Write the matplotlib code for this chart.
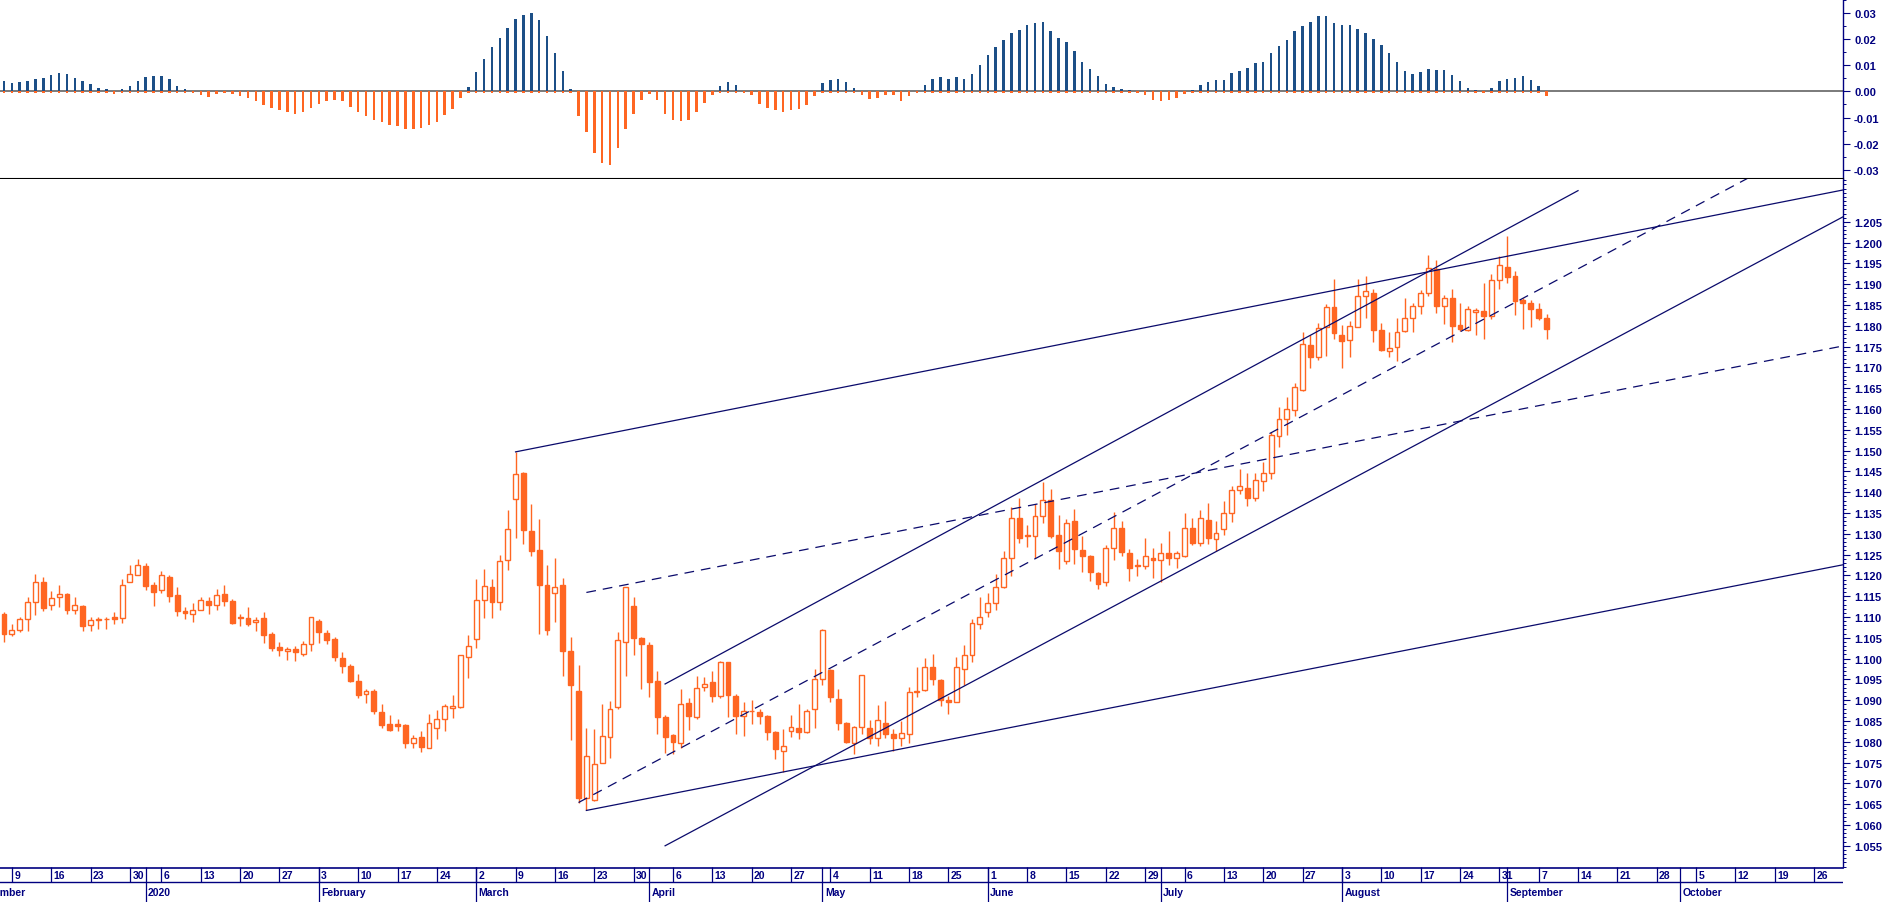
import numpy as np
import pandas as pd
import matplotlib
matplotlib.use('Agg')
import matplotlib.pyplot as plt
from matplotlib.ticker import MultipleLocator, FixedLocator, FuncFormatter

plt.rcParams['font.family'] = ['Liberation Sans', 'DejaVu Sans']
plt.rcParams['font.weight'] = 'bold'
plt.rcParams['lines.scale_dashes'] = False

ORANGE = '#ff6622'
BLUE = '#1c4f87'
NAVY = '#000080'
LINE = '#0a0a6b'
NARROW = ['Liberation Sans Narrow', 'Liberation Sans', 'DejaVu Sans']

# daily candles, 6 Dec 2019 .. 8 Sep 2020
opens = [1.1107, 1.1060, 1.1069, 1.1096, 1.1137, 1.1184, 1.1128, 1.1147, 1.1156, 1.1118,
         1.1126, 1.1080, 1.1094, 1.1095, 1.1100, 1.1098, 1.1185, 1.1201, 1.1222, 1.1176,
         1.1165, 1.1196, 1.1152, 1.1114, 1.1108, 1.1118, 1.1138, 1.1128, 1.1155, 1.1138,
         1.1099, 1.1097, 1.1087, 1.1097, 1.1059, 1.1027, 1.1019, 1.1023, 1.1012, 1.1036,
         1.1090, 1.1061, 1.1047, 1.1001, 1.0982, 1.0946, 1.0914, 1.0922, 1.0871, 1.0842,
         1.0842, 1.0840, 1.0798, 1.0811, 1.0786, 1.0832, 1.0854, 1.0882, 1.0884, 1.1005,
         1.1048, 1.1142, 1.1172, 1.1137, 1.1236, 1.1383, 1.1446, 1.1306, 1.1261, 1.1177,
         1.1157, 1.1177, 1.1018, 1.0922, 1.0664, 1.0661, 1.0748, 1.0811, 1.0883, 1.1041,
         1.1126, 1.1049, 1.1033, 1.0945, 1.0859, 1.0816, 1.0796, 1.0893, 1.0859, 1.0931,
         1.0943, 1.0909, 1.0991, 1.0909, 1.0861, 1.0875, 1.0872, 1.0863, 1.0824, 1.0779,
         1.0825, 1.0832, 1.0824, 1.0879, 1.0952, 1.0972, 1.0903, 1.0845, 1.0797, 1.0835,
         1.0833, 1.0810, 1.0846, 1.0818, 1.0810, 1.0818, 1.0920, 1.0925, 1.0979, 1.0948,
         1.0900, 1.0896, 1.0976, 1.1009, 1.1082, 1.1113, 1.1133, 1.1171, 1.1241, 1.1338,
         1.1298, 1.1295, 1.1342, 1.1381, 1.1297, 1.1235, 1.1331, 1.1261, 1.1246, 1.1205,
         1.1185, 1.1265, 1.1313, 1.1253, 1.1225, 1.1222, 1.1241, 1.1237, 1.1253, 1.1243,
         1.1246, 1.1313, 1.1279, 1.1333, 1.1287, 1.1311, 1.1350, 1.1405, 1.1409, 1.1385,
         1.1426, 1.1446, 1.1536, 1.1577, 1.1597, 1.1646, 1.1754, 1.1726, 1.1796, 1.1846,
         1.1778, 1.1767, 1.1798, 1.1871, 1.1880, 1.1790, 1.1740, 1.1748, 1.1788, 1.1818,
         1.1848, 1.1878, 1.1936, 1.1847, 1.1866, 1.1802, 1.1790, 1.1834, 1.1836, 1.1824,
         1.1910, 1.1942, 1.1920, 1.1863, 1.1855, 1.1840, 1.1820]
highs = [1.1113, 1.1082, 1.1099, 1.1147, 1.1203, 1.1197, 1.1162, 1.1176, 1.1158, 1.1147,
         1.1128, 1.1099, 1.1099, 1.1099, 1.1113, 1.1192, 1.1224, 1.1240, 1.1229, 1.1183,
         1.1210, 1.1202, 1.1171, 1.1123, 1.1133, 1.1149, 1.1147, 1.1167, 1.1176, 1.1144,
         1.1107, 1.1124, 1.1101, 1.1112, 1.1065, 1.1039, 1.1027, 1.1031, 1.1042, 1.1101,
         1.1095, 1.1068, 1.1052, 1.1017, 1.0988, 1.0962, 1.0926, 1.0928, 1.0892, 1.0865,
         1.0854, 1.0842, 1.0816, 1.0826, 1.0867, 1.0876, 1.0892, 1.0912, 1.1009, 1.1056,
         1.1191, 1.1215, 1.1191, 1.1250, 1.1357, 1.1497, 1.1449, 1.1371, 1.1335, 1.1225,
         1.1242, 1.1194, 1.1052, 1.0984, 1.0833, 1.0830, 1.0891, 1.0897, 1.1065, 1.1172,
         1.1148, 1.1052, 1.1041, 1.0969, 1.0864, 1.0818, 1.0927, 1.0905, 1.0959, 1.0956,
         1.0970, 1.0995, 1.0993, 1.0915, 1.0896, 1.0901, 1.0880, 1.0865, 1.0826, 1.0831,
         1.0864, 1.0891, 1.0878, 1.0976, 1.1071, 1.0974, 1.0927, 1.0847, 1.0839, 1.0961,
         1.0852, 1.0889, 1.0897, 1.0830, 1.0850, 1.0931, 1.0979, 1.1001, 1.1011, 1.0950,
         1.0911, 1.1003, 1.1032, 1.1096, 1.1149, 1.1157, 1.1203, 1.1258, 1.1365, 1.1387,
         1.1321, 1.1371, 1.1425, 1.1407, 1.1345, 1.1335, 1.1359, 1.1295, 1.1248, 1.1209,
         1.1273, 1.1353, 1.1331, 1.1263, 1.1239, 1.1291, 1.1267, 1.1278, 1.1306, 1.1259,
         1.1350, 1.1337, 1.1357, 1.1374, 1.1331, 1.1379, 1.1415, 1.1457, 1.1447, 1.1447,
         1.1473, 1.1544, 1.1604, 1.1628, 1.1662, 1.1786, 1.1778, 1.1808, 1.1852, 1.1912,
         1.1802, 1.1812, 1.1912, 1.1919, 1.1888, 1.1806, 1.1786, 1.1818, 1.1868, 1.1855,
         1.1886, 1.1970, 1.1959, 1.1874, 1.1888, 1.1855, 1.1847, 1.1844, 1.1904, 1.1924,
         1.1968, 1.2016, 1.1931, 1.1868, 1.1862, 1.1854, 1.1828]
lows = [1.1039, 1.1055, 1.1064, 1.1067, 1.1104, 1.1115, 1.1117, 1.1125, 1.1108, 1.1107,
        1.1067, 1.1067, 1.1071, 1.1071, 1.1083, 1.1085, 1.1184, 1.1200, 1.1165, 1.1126,
        1.1157, 1.1136, 1.1103, 1.1095, 1.1088, 1.1117, 1.1107, 1.1117, 1.1127, 1.1084,
        1.1079, 1.1079, 1.1067, 1.1038, 1.1019, 1.1007, 1.0997, 1.0995, 1.1007, 1.1019,
        1.1037, 1.1036, 1.0995, 1.0966, 1.0943, 1.0905, 1.0894, 1.0867, 1.0833, 1.0826,
        1.0826, 1.0786, 1.0786, 1.0776, 1.0786, 1.0807, 1.0826, 1.0858, 1.0881, 1.0954,
        1.1026, 1.1098, 1.1098, 1.1117, 1.1214, 1.1289, 1.1276, 1.1247, 1.1058, 1.1057,
        1.1089, 1.0959, 1.0805, 1.0654, 1.0635, 1.0658, 1.0748, 1.0762, 1.0879, 1.0957,
        1.1009, 1.0928, 1.0907, 1.0819, 1.0774, 1.0770, 1.0785, 1.0829, 1.0855, 1.0923,
        1.0896, 1.0905, 1.0859, 1.0819, 1.0815, 1.0843, 1.0843, 1.0805, 1.0758, 1.0728,
        1.0811, 1.0807, 1.0822, 1.0832, 1.0936, 1.0895, 1.0829, 1.0797, 1.0770, 1.0819,
        1.0795, 1.0790, 1.0810, 1.0778, 1.0789, 1.0797, 1.0907, 1.0923, 1.0936, 1.0887,
        1.0867, 1.0895, 1.0936, 1.0992, 1.1071, 1.1099, 1.1117, 1.1170, 1.1199, 1.1279,
        1.1269, 1.1243, 1.1327, 1.1289, 1.1215, 1.1227, 1.1227, 1.1209, 1.1187, 1.1167,
        1.1175, 1.1238, 1.1247, 1.1187, 1.1199, 1.1215, 1.1193, 1.1185, 1.1225, 1.1219,
        1.1244, 1.1273, 1.1271, 1.1275, 1.1259, 1.1297, 1.1329, 1.1395, 1.1368, 1.1379,
        1.1403, 1.1431, 1.1509, 1.1537, 1.1584, 1.1644, 1.1699, 1.1718, 1.1728, 1.1768,
        1.1699, 1.1726, 1.1796, 1.1820, 1.1760, 1.1740, 1.1726, 1.1716, 1.1786, 1.1786,
        1.1828, 1.1872, 1.1832, 1.1804, 1.1760, 1.1788, 1.1788, 1.1778, 1.1768, 1.1816,
        1.1888, 1.1904, 1.1827, 1.1792, 1.1796, 1.1814, 1.1768]
closes = [1.1060, 1.1068, 1.1095, 1.1137, 1.1185, 1.1122, 1.1146, 1.1156, 1.1117, 1.1128,
          1.1079, 1.1094, 1.1095, 1.1096, 1.1096, 1.1178, 1.1204, 1.1224, 1.1175, 1.1160,
          1.1200, 1.1151, 1.1115, 1.1110, 1.1116, 1.1140, 1.1129, 1.1154, 1.1139, 1.1086,
          1.1098, 1.1083, 1.1094, 1.1057, 1.1026, 1.1021, 1.1023, 1.1017, 1.1036, 1.1099,
          1.1064, 1.1045, 1.1004, 1.0983, 1.0946, 1.0913, 1.0923, 1.0875, 1.0841, 1.0829,
          1.0838, 1.0798, 1.0810, 1.0788, 1.0845, 1.0854, 1.0885, 1.0887, 1.1008, 1.1030,
          1.1140, 1.1174, 1.1137, 1.1234, 1.1311, 1.1443, 1.1310, 1.1259, 1.1177, 1.1069,
          1.1171, 1.1019, 1.0937, 1.0665, 1.0765, 1.0746, 1.0813, 1.0880, 1.1044, 1.1171,
          1.1050, 1.1036, 1.0944, 1.0859, 1.0812, 1.0799, 1.0892, 1.0861, 1.0930, 1.0938,
          1.0911, 1.0991, 1.0913, 1.0863, 1.0873, 1.0874, 1.0861, 1.0824, 1.0783, 1.0791,
          1.0835, 1.0823, 1.0875, 1.0952, 1.1069, 1.0907, 1.0845, 1.0799, 1.0835, 1.0960,
          1.0810, 1.0852, 1.0818, 1.0808, 1.0820, 1.0919, 1.0923, 1.0979, 1.0952, 1.0901,
          1.0896, 1.0979, 1.1009, 1.1085, 1.1101, 1.1133, 1.1172, 1.1241, 1.1339, 1.1289,
          1.1295, 1.1342, 1.1381, 1.1295, 1.1259, 1.1327, 1.1264, 1.1247, 1.1207, 1.1180,
          1.1265, 1.1315, 1.1257, 1.1219, 1.1222, 1.1246, 1.1237, 1.1255, 1.1243, 1.1253,
          1.1315, 1.1277, 1.1337, 1.1289, 1.1303, 1.1349, 1.1405, 1.1414, 1.1385, 1.1430,
          1.1447, 1.1537, 1.1577, 1.1600, 1.1653, 1.1756, 1.1726, 1.1794, 1.1846, 1.1782,
          1.1764, 1.1800, 1.1871, 1.1883, 1.1790, 1.1742, 1.1746, 1.1786, 1.1818, 1.1848,
          1.1878, 1.1938, 1.1848, 1.1866, 1.1800, 1.1792, 1.1840, 1.1838, 1.1824, 1.1910,
          1.1946, 1.1918, 1.1860, 1.1855, 1.1840, 1.1819, 1.1792]

# oscillator in the upper panel, one value per candle
osc = [0.0040, 0.0033, 0.0035, 0.0040, 0.0046, 0.0052, 0.0064, 0.0072, 0.0067, 0.0052,
       0.0042, 0.0027, 0.0014, 0.0008, -0.0009, 0.0010, 0.0020, 0.0040, 0.0054, 0.0060,
       0.0060, 0.0049, 0.0022, 0.0010, -0.0005, -0.0014, -0.0020, -0.0010, -0.0003, -0.0010,
       -0.0018, -0.0026, -0.0037, -0.0051, -0.0063, -0.0073, -0.0078, -0.0086, -0.0079, -0.0063,
       -0.0047, -0.0037, -0.0032, -0.0037, -0.0059, -0.0079, -0.0093, -0.0108, -0.0118, -0.0129,
       -0.0134, -0.0143, -0.0143, -0.0140, -0.0129, -0.0118, -0.0091, -0.0069, -0.0026, 0.0018,
       0.0074, 0.0125, 0.0170, 0.0206, 0.0244, 0.0280, 0.0292, 0.0302, 0.0276, 0.0214,
       0.0146, 0.0077, 0.0008, -0.0095, -0.0155, -0.0236, -0.0274, -0.0284, -0.0216, -0.0143,
       -0.0086, -0.0031, -0.0009, -0.0033, -0.0086, -0.0111, -0.0114, -0.0108, -0.0079, -0.0044,
       -0.0012, 0.0022, 0.0037, 0.0026, 0.0003, -0.0013, -0.0047, -0.0063, -0.0073, -0.0078,
       -0.0070, -0.0067, -0.0051, -0.0018, 0.0033, 0.0044, 0.0046, 0.0036, 0.0013, -0.0015,
       -0.0028, -0.0024, -0.0012, -0.0012, -0.0035, -0.0018, -0.0005, 0.0023, 0.0046, 0.0055,
       0.0049, 0.0054, 0.0049, 0.0067, 0.0101, 0.0141, 0.0170, 0.0196, 0.0224, 0.0237,
       0.0256, 0.0264, 0.0265, 0.0234, 0.0206, 0.0191, 0.0155, 0.0114, 0.0087, 0.0059,
       0.0029, 0.0019, 0.0010, 0.0004, 0.0001, -0.0014, -0.0033, -0.0035, -0.0032, -0.0024,
       -0.0010, 0.0006, 0.0023, 0.0035, 0.0045, 0.0045, 0.0072, 0.0079, 0.0092, 0.0110,
       0.0113, 0.0147, 0.0173, 0.0198, 0.0232, 0.0250, 0.0268, 0.0288, 0.0288, 0.0264,
       0.0256, 0.0256, 0.0241, 0.0223, 0.0202, 0.0178, 0.0146, 0.0114, 0.0077, 0.0068,
       0.0076, 0.0088, 0.0084, 0.0081, 0.0064, 0.0041, 0.0014, 0.0005, -0.0005, 0.0015,
       0.0041, 0.0046, 0.0052, 0.0058, 0.0045, 0.0022, -0.0018]

# drawn trend lines: two anchor points (date, price), extend to the right edge or not
trend_lines = [
    ([('2020-03-09', 1.1497), ('2020-08-18', 1.1930)], '-', True),
    ([('2020-03-20', 1.1159), ('2020-10-26', 1.1738)], '--', True),
    ([('2020-03-20', 1.0635), ('2020-10-26', 1.1212)], '-', True),
    ([('2020-04-03', 1.0939), ('2020-09-14', 1.2125)], '-', False),
    ([('2020-03-19', 1.0654), ('2020-10-26', 1.2240)], '--', True),
    ([('2020-04-03', 1.0550), ('2020-10-26', 1.2025)], '-', True),
]

# trading days on the axis (the feed has no bar for 1 Jan)
days = pd.bdate_range('2019-12-02', '2020-10-30')
days = days[days != pd.Timestamp('2020-01-01')]
pos = np.arange(len(days)) - days.get_loc(pd.Timestamp('2019-12-06'))
day_pos = dict(zip(days, pos))

fig = plt.figure(figsize=(18.9, 9.03), dpi=100)
W = 1843 / 1890
ax_osc = fig.add_axes([0, 723 / 903, W, 180 / 903])
ax = fig.add_axes([0, 35 / 903, W, 688 / 903])
ax_d = fig.add_axes([0, 0, W, 35 / 903])
xlim = (-0.51, 233.67)

# candles
n = len(closes)
x = np.arange(n)
o, h, l, c = (np.array(v[:n]) for v in (opens, highs, lows, closes))
up = c >= o
lo = np.minimum(o, c)
hgt = np.maximum(np.abs(c - o), 0.00012)
ax.vlines(x, l, h, color=ORANGE, lw=1.0, zorder=2)
ax.bar(x[up], hgt[up], bottom=lo[up], width=0.62, facecolor='white',
       edgecolor=ORANGE, linewidth=1.0, zorder=3)
ax.bar(x[~up], hgt[~up], bottom=lo[~up], width=0.62, facecolor=ORANGE,
       edgecolor=ORANGE, linewidth=1.0, zorder=3)

for pts, style, extend in trend_lines:
    (d0, p0), (d1, p1) = pts
    x0, x1 = day_pos[pd.Timestamp(d0)], day_pos[pd.Timestamp(d1)]
    if extend:
        slope = (p1 - p0) / (x1 - x0)
        x1, p1 = xlim[1], p0 + slope * (xlim[1] - x0)
    ln, = ax.plot([x0, x1], [p0, p1], color=LINE, lw=0.9, zorder=4)
    if style == '--':
        ln.set_dashes((7, 5))

ax.set_xlim(xlim)
ax.set_ylim(1.0499, 1.2153)
ax.yaxis.tick_right()
ax.yaxis.set_major_locator(FixedLocator(np.round(np.arange(1.055, 1.2051, 0.005), 3)))
ax.yaxis.set_minor_locator(MultipleLocator(0.001))
ax.yaxis.set_major_formatter(FuncFormatter(lambda v, p: f'{v:.3f}'))
ax.set_xticks([])

# oscillator panel
ov = np.array(osc[:n])
ax_osc.axhline(0, color='#707070', lw=1.3, zorder=1)
ax_osc.bar(x, np.where(ov > 0, ov, 0), width=0.32, color=BLUE, zorder=2)
ax_osc.bar(x, np.minimum(np.where(ov < 0, ov, 0), -0.0004), width=0.32, color=ORANGE, zorder=2)
ax_osc.set_xlim(xlim)
ax_osc.set_ylim(-0.0336, 0.0355)
ax_osc.yaxis.tick_right()
ax_osc.yaxis.set_major_locator(FixedLocator([-0.03, -0.02, -0.01, 0.0, 0.01, 0.02, 0.03]))
ax_osc.yaxis.set_minor_locator(MultipleLocator(0.005))
ax_osc.yaxis.set_major_formatter(FuncFormatter(lambda v, p: '0.00' if abs(v) < 1e-9 else f'{v:.2f}'))
ax_osc.set_xticks([])

for a in (ax, ax_osc):
    for s in ('left', 'top', 'bottom'):
        a.spines[s].set_visible(False)
    a.spines['right'].set_color(NAVY)
    a.spines['right'].set_linewidth(1.0)
    a.tick_params(axis='y', which='major', length=5, width=0.8, color=NAVY,
                  labelcolor=NAVY, labelsize=8, pad=3)
    a.tick_params(axis='y', which='minor', length=2.5, width=0.7, color=NAVY)
ax_osc.spines['bottom'].set_visible(True)
ax_osc.spines['bottom'].set_color('black')
ax_osc.spines['bottom'].set_linewidth(1.5)

# date rows
ax_d.set_xlim(xlim)
ax_d.set_ylim(0, 35)
ax_d.axis('off')
ax_d.plot(xlim, [34.5, 34.5], color=NAVY, lw=1.2, clip_on=False)
ax_d.plot(xlim, [20, 20], color=NAVY, lw=1.0)
for d, p in zip(days, pos):
    if d.weekday() == 0:
        ax_d.vlines(p, 20, 35, color=NAVY, lw=0.9)
        ax_d.text(p + 0.3, 27.3, str(d.day), ha='left', va='center', fontsize=7.5,
                  family=NARROW, color=NAVY, clip_on=True)
month_first = pd.Series(pos, index=days).groupby([days.year, days.month]).first()
for (yr, mo), p in month_first.items():
    ax_d.vlines(p, 0, 35, color=NAVY, lw=0.9)
    name = '2020' if (yr, mo) == (2020, 1) else pd.Timestamp(yr, mo, 1).strftime('%B')
    ax_d.text(p + 0.3, 9.5, name, ha='left', va='center', fontsize=7.5,
              family=NARROW, color=NAVY, clip_on=True)

fig.savefig('out.png', dpi=100)
